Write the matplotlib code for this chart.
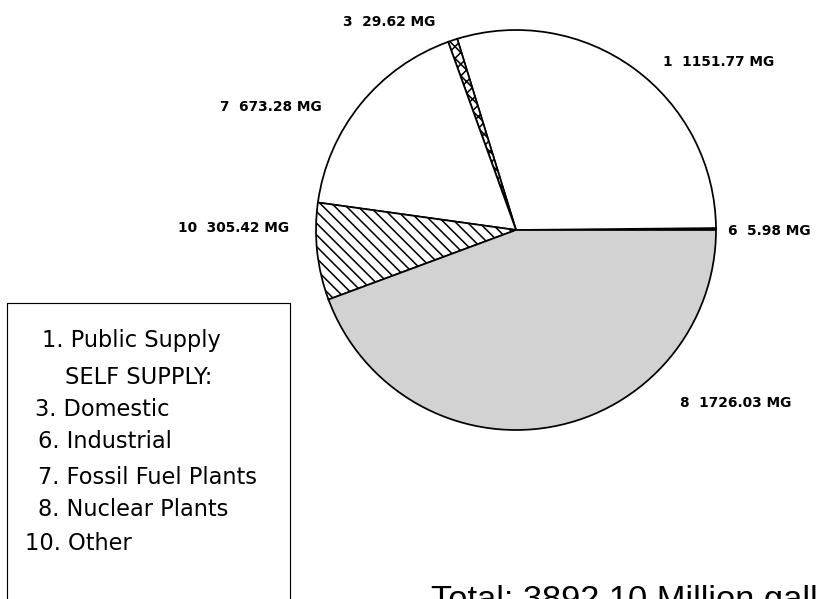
import matplotlib
matplotlib.use('Agg')
from matplotlib import pyplot as plt
from matplotlib.patches import Rectangle

# data, in order counter-clockwise from east
codes = ['6', '1', '3', '7', '10', '8']
values = [5.98, 1151.77, 29.62, 673.28, 305.42, 1726.03]
legend_lines = ['1. Public Supply', 'SELF SUPPLY:', '3. Domestic', '6. Industrial',
                '7. Fossil Fuel Plants', '8. Nuclear Plants', '10. Other']

# styling
fills = ['white', 'white', 'white', 'white', 'white', '#d2d2d2']
hatches = [None, None, 'xxxx', None, '\\\\\\\\', None]

DPI = 140
W, H = 817, 599

plt.rcParams['font.family'] = ['DejaVu Sans']
plt.rcParams['hatch.linewidth'] = 0.8

fig = plt.figure(figsize=(W / DPI, H / DPI), dpi=DPI)
ax = fig.add_axes([0, 0, 1, 1])
ax.set_xlim(0, W)
ax.set_ylim(H, 0)
ax.set_aspect('equal')
ax.axis('off')

# y axis is inverted, so clockwise in data = counter-clockwise on screen
wedges, _ = ax.pie(values, center=(516, 230), radius=200, startangle=0,
                   counterclock=False, colors=fills,
                   wedgeprops=dict(edgecolor='black', linewidth=0.9))
for w, h in zip(wedges, hatches):
    if h:
        w.set_hatch(h)
ax.set_xlim(0, W)
ax.set_ylim(H, 0)

# slice labels
label_pos = [(728, 231), (663, 62), (343, 22), (220, 107), (178, 228), (680, 403)]
for c, v, (x, y) in zip(codes, values, label_pos):
    ax.text(x, y, '{}  {:.2f} MG'.format(c, v), ha='left', va='center',
            fontsize=7.1, fontweight='bold')

# legend box
ax.add_patch(Rectangle((7, 303), 283, 320, fill=False, edgecolor='black',
                       linewidth=0.6, clip_on=False))
leg_x = [42, 65, 35, 38, 38, 38, 25]
leg_y = [340, 377, 410, 442, 477, 510, 543]
for t, x, y in zip(legend_lines, leg_x, leg_y):
    ax.text(x, y, t, ha='left', va='center', fontsize=11.6)

ax.text(431, 609, 'Total: {:.2f} Million gallons'.format(sum(values)),
        ha='left', va='baseline', fontsize=17.7, family='Liberation Sans')

plt.savefig('out.png', dpi=DPI)
